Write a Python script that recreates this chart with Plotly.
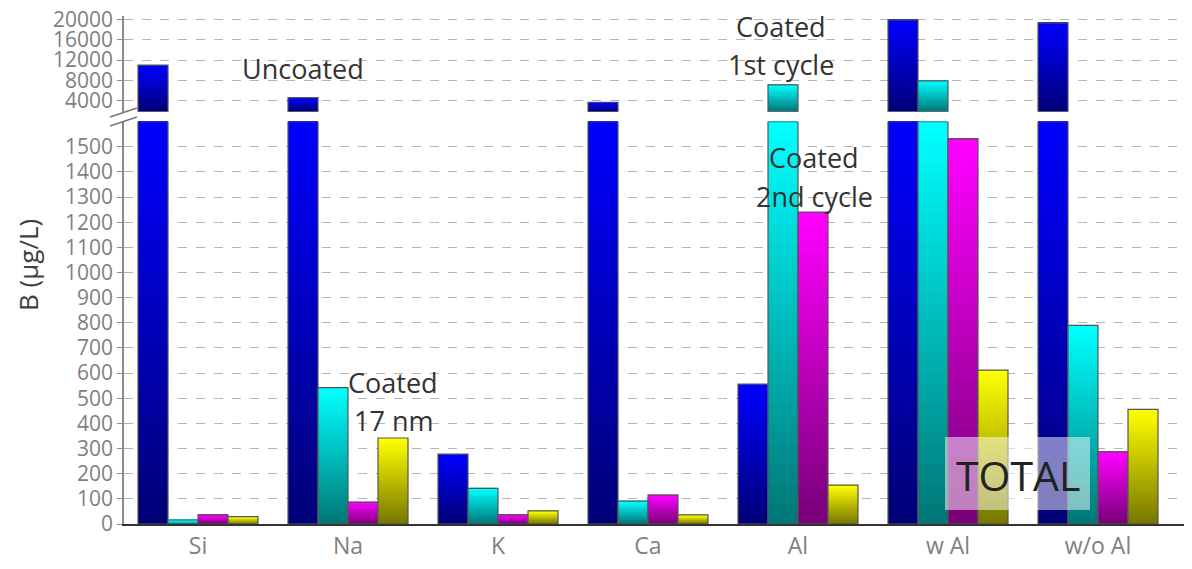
import plotly.graph_objects as go

# ---------------- data ----------------
categories = ["Si", "Na", "K", "Ca", "Al", "w Al", "w/o Al"]
series_names = ["Uncoated", "Coated 1st cycle", "Coated 2nd cycle", "Coated 17 nm"]
uncoated = [11000, 4600, 278, 3700, 556, 19900, 19300]
coated_1st = [16, 542, 142, 91, 7100, 7900, 790]
coated_2nd = [36, 86, 36, 115, 1240, 1532, 287]
coated_17nm = [29, 342, 52, 36, 155, 612, 456]
lower_ticks = list(range(0, 1600, 100))
upper_ticks = [4000, 8000, 12000, 16000, 20000]
upper_tick_labels = ["4000", "8000", "12000", "16000", "20000"]

series_values = [uncoated, coated_1st, coated_2nd, coated_17nm]
top_colors = [(0, 0, 255), (0, 255, 255), (255, 0, 255), (255, 255, 0)]
bottom_colors = [(0, 0, 120), (0, 120, 120), (120, 0, 120), (120, 120, 0)]

LOW_MAX = 1600
UP_MIN, UP_MAX = 1840, 20650
N = 40
BAR_W = 0.2

# page pixel geometry (browser body margin of 8px is compensated)
OFF = 8
PW, PH = 1192, 569
W, H = PW - OFF, PH - OFF
PLOT_L, PLOT_T, PLOT_B, PLOT_R = 124, 16, 524, 1192
ML, MT = PLOT_L - OFF, PLOT_T - OFF
MB = PH - PLOT_B
MR = 0
X0 = 198.0
DX = 150.0


def px_to_x(px):
    return (px - X0) / DX


def py_to_paper(py):
    return (PLOT_B - py) / (PLOT_B - PLOT_T)


def px_to_paper(px):
    return (px - PLOT_L) / (PLOT_R - PLOT_L)


fig = go.Figure()


def mix(c0, c1, t):
    return "rgb(%d,%d,%d)" % tuple(round(a + (b - a) * t) for a, b in zip(c0, c1))


for s, vals in enumerate(series_values):
    offset = -0.4 + BAR_W * s
    for panel in ("y", "y2"):
        if panel == "y":
            b0 = [0] * len(vals)
            h = [min(v, LOW_MAX) for v in vals]
        else:
            b0 = [UP_MIN] * len(vals)
            h = [(v - UP_MIN) if v > UP_MIN else None for v in vals]
        for k in range(N):
            t = k / (N - 1)
            bases = [b + (hh * k / N) if hh else None for b, hh in zip(b0, h)]
            ys = [(hh * (N - k) / N) if hh else None for hh in h]
            fig.add_trace(go.Bar(
                x=categories, y=ys, base=bases, yaxis=panel, xaxis="x",
                width=BAR_W, offset=offset,
                marker=dict(color=mix(bottom_colors[s], top_colors[s], t),
                            line=dict(width=0)),
                showlegend=False, hoverinfo="skip"))
        fig.add_trace(go.Bar(
            x=categories, y=h, base=b0, yaxis=panel, xaxis="x",
            width=BAR_W, offset=offset, name=series_names[s],
            marker=dict(color="rgba(0,0,0,0)", line=dict(width=1.2, color="#555555")),
            showlegend=False))

lower_top = py_to_paper(121.7)
upper_bottom = py_to_paper(111.7)

ytick_font = dict(family="Open Sans", size=21, color="#7f7f7f")
xtick_font = dict(family="Open Sans", size=23, color="#7f7f7f")
grid = dict(showgrid=True, gridcolor="#b5b5b5", griddash="dash", gridwidth=1)

fig.update_layout(
    width=W, height=H,
    margin=dict(l=ML, r=MR, t=MT, b=MB, autoexpand=False),
    paper_bgcolor="white", plot_bgcolor="white",
    barmode="overlay",
    showlegend=False,
    xaxis=dict(domain=[0, 1], range=[px_to_x(PLOT_L), px_to_x(PLOT_R)], anchor="y",
               showline=True, linecolor="#333333", linewidth=2,
               tickfont=xtick_font, ticks="", showgrid=False, zeroline=False,
               categoryorder="array", categoryarray=categories),
    yaxis=dict(domain=[0, lower_top], range=[0, LOW_MAX], tickvals=lower_ticks,
               showline=True, linecolor="#8a8a8a", linewidth=1.5,
               ticks="outside", ticklen=5, tickcolor="#8a8a8a",
               ticklabeloverflow="allow",
               tickfont=ytick_font, zeroline=False, **grid),
    yaxis2=dict(domain=[upper_bottom, 1], range=[UP_MIN, UP_MAX], tickvals=upper_ticks,
                ticktext=upper_tick_labels,
                anchor="x", showline=True, linecolor="#8a8a8a", linewidth=1.5,
                ticks="outside", ticklen=5, tickcolor="#8a8a8a",
                ticklabeloverflow="allow",
                tickfont=ytick_font, zeroline=False, **grid),
)

ann_font = dict(family="Open Sans", size=27, color="#333333")
labels = [
    ("Uncoated", 303, 68),
    ("Coated", 781, 27), ("1st cycle", 781, 64),
    ("Coated", 814, 158), ("2nd cycle", 814, 196),
    ("Coated", 393, 382), ("17 nm", 393, 420),
]
for txt, px, py in labels:
    fig.add_annotation(text=txt, x=px_to_x(px), y=py_to_paper(py), xref="x", yref="paper",
                       showarrow=False, font=ann_font, xanchor="center", yanchor="middle")

# TOTAL box
fig.add_shape(type="rect", xref="x", yref="paper",
              x0=px_to_x(945), x1=px_to_x(1090), y0=py_to_paper(510), y1=py_to_paper(437),
              fillcolor="rgba(255,255,255,0.5)", line=dict(width=0), layer="above")
fig.add_annotation(text="TOTAL", x=px_to_x(1018), y=py_to_paper(475), xref="x", yref="paper",
                   showarrow=False, font=dict(family="Open Sans", size=41, color="#222222"),
                   xanchor="center", yanchor="middle")

# y-axis title
fig.add_annotation(text="B (μg/L)", x=px_to_paper(28), y=py_to_paper(265),
                   xref="paper", yref="paper", textangle=-90, showarrow=False,
                   font=dict(family="Open Sans", size=26, color="#404040"),
                   xanchor="center", yanchor="middle")

# axis break marks
for (x0, y0, x1, y1) in [(110, 117, 137, 108), (110, 126, 137, 117)]:
    fig.add_shape(type="line", xref="paper", yref="paper",
                  x0=px_to_paper(x0), x1=px_to_paper(x1),
                  y0=py_to_paper(y0), y1=py_to_paper(y1),
                  line=dict(color="#777777", width=1.5))

fig.write_html("out.html")
